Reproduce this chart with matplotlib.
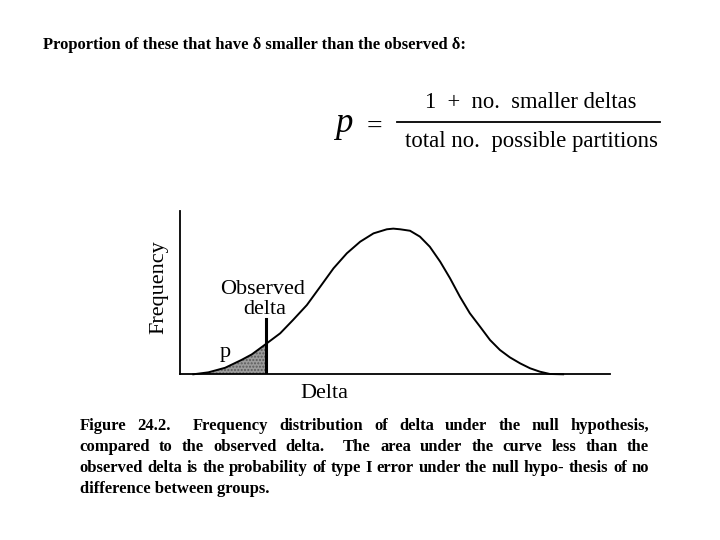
import re
import matplotlib
matplotlib.use('Agg')
import matplotlib.pyplot as plt
from matplotlib.lines import Line2D

plt.rcParams['font.family'] = ['Liberation Serif', 'DejaVu Serif']

# null distribution of delta (both axes 0-100)
delta = [3.1, 6.6, 10.5, 14.3, 16.7, 19.9, 23.3, 26.3, 29.5, 32.6, 35.7, 38.8,
         41.9, 45.0, 48.1, 49.6, 51.2, 53.5, 55.8, 58.1, 60.5, 62.8, 65.1, 67.4,
         69.8, 72.1, 74.4, 76.7, 79.1, 81.4, 83.7, 86.0, 89.1]
freq = [0, 1.2, 4.0, 8.8, 12.2, 18.4, 25.1, 33.3, 42.4, 53.6, 64.9, 74.1,
        81.2, 86.3, 88.8, 89.2, 88.8, 87.9, 84.3, 78.1, 69.0, 58.8, 47.5, 37.4,
        29.1, 21.0, 14.9, 10.4, 6.7, 3.7, 1.6, 0.2, 0]
observed = 19.9
observed_top = 33.9

title = 'Proportion of these that have \u03b4 smaller than the observed \u03b4:'
numerator = '1  +  no.  smaller deltas'
denominator = 'total no.  possible partitions'
caption = [
    'Figure 24.2.  Frequency distribution of delta under the null hypothesis,',
    'compared to the observed delta.  The area under the curve less than the',
    'observed delta is the probability of type I error under the null hypo- thesis of no',
    'difference between groups.',
]

W, H = 720, 540
fig = plt.figure(figsize=(7.2, 5.4), dpi=100)
renderer = fig.canvas.get_renderer()


def fx(x):
    return x / W


def fy(y):
    return 1 - y / H


def put(x, y, s, **kw):
    return fig.text(fx(x), fy(y), s, **kw)


def fit(t, width):
    w = t.get_window_extent(renderer).width
    t.set_fontsize(t.get_fontsize() * width / w)
    return t


# axes: left spine at x=180, baseline at y=374, top at y=211, right end x=610
ax = fig.add_axes([fx(180), fy(374.3), (610 - 180) / W, (374.3 - 211) / H])
ax.set_xlim(0, 100)
ax.set_ylim(0, 100)
for s in ['top', 'right']:
    ax.spines[s].set_visible(False)
for s in ['left', 'bottom']:
    ax.spines[s].set_linewidth(1.3)
ax.set_xticks([])
ax.set_yticks([])

ax.plot(delta, freq, color='black', lw=1.4, solid_joinstyle='round', clip_on=False)
n = delta.index(observed) + 1
ax.fill_between(delta[:n], freq[:n], 0, facecolor='#9c9c9c', edgecolor='#5a5a5a',
                hatch='.....', lw=0)
ax.plot([observed, observed], [0, observed_top], color='black', lw=2.2)

# labels on the chart
put(159, 287, 'Frequency', rotation=90, ha='center', va='center', fontsize=16)
put(300, 398, 'Delta', ha='left', va='baseline', fontsize=16)
put(262.5, 294, 'Observed', ha='center', va='baseline', fontsize=16)
put(265, 314, 'delta', ha='center', va='baseline', fontsize=16)
put(220, 357, 'p', ha='left', va='baseline', fontsize=16)

# title
t = put(43, 49.3, title, ha='left', va='baseline', fontsize=11, fontweight='bold')
fit(t, 427)

# formula
put(335, 131.7, 'p', ha='left', va='baseline', fontsize=25, style='italic')
put(374.5, 127, '=', ha='center', va='center', fontsize=20)
t = put(425, 108.3, numerator, ha='left', va='baseline', fontsize=16)
fit(t, 212)
t = put(405, 146.7, denominator, ha='left', va='baseline', fontsize=16)
fit(t, 252)
fig.add_artist(Line2D([fx(397), fx(660)], [fy(121.7), fy(121.7)], color='black', lw=1.3))

# caption, justified between x=79 and x=649
x0, x1 = 79.5, 649
base = [430, 451, 472, 493]
t = put(0, 0, caption[2], fontsize=10, fontweight='bold')
size = 10 * (x1 - x0) / t.get_window_extent(renderer).width
t.remove()
for i, line in enumerate(caption):
    if i == len(caption) - 1:
        put(x0, base[i], line, ha='left', va='baseline', fontsize=size, fontweight='bold')
        continue
    parts = re.split(r'( +)', line)
    words = parts[0::2]
    gaps = [len(g) for g in parts[1::2]]
    texts = [put(x0, base[i], w, ha='left', va='baseline', fontsize=size,
                 fontweight='bold') for w in words]
    widths = [tt.get_window_extent(renderer).width for tt in texts]
    unit = (x1 - x0 - sum(widths)) / sum(gaps)
    x = x0
    for k, tt in enumerate(texts):
        tt.set_x(fx(x))
        x += widths[k]
        if k < len(gaps):
            x += gaps[k] * unit

fig.savefig('out.png', dpi=100, facecolor='white')
